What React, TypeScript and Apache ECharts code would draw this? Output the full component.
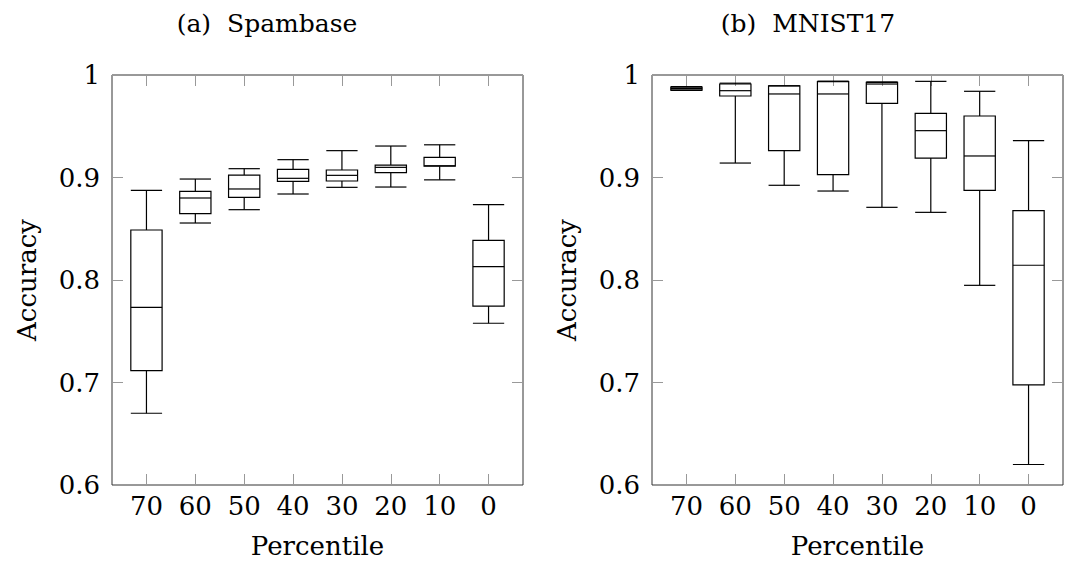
import React, { useEffect, useRef } from "react";
import * as echarts from "echarts";

const categories = ["70", "60", "50", "40", "30", "20", "10", "0"];
const yTicks = [0.6, 0.7, 0.8, 0.9, 1];

// (a) Spambase
const spamMin = [0.670, 0.8556, 0.8686, 0.8839, 0.8904, 0.8907, 0.8977, 0.7578];
const spamQ1 = [0.7115, 0.8647, 0.8807, 0.8963, 0.8966, 0.9047, 0.9110, 0.7746];
const spamMedian = [0.7733, 0.8800, 0.8888, 0.8992, 0.9021, 0.9099, 0.9115, 0.8130];
const spamQ3 = [0.8488, 0.8865, 0.9024, 0.9080, 0.9073, 0.9121, 0.9196, 0.8387];
const spamMax = [0.8875, 0.8985, 0.9086, 0.9174, 0.9262, 0.9307, 0.9319, 0.8736];

// (b) MNIST17
const mnistMin = [0.9850, 0.9141, 0.8924, 0.8868, 0.8709, 0.8660, 0.7948, 0.6200];
const mnistQ1 = [0.9853, 0.9795, 0.9262, 0.9028, 0.9724, 0.9190, 0.8875, 0.6976];
const mnistMedian = [0.9868, 0.9847, 0.9815, 0.9815, 0.9912, 0.9457, 0.9210, 0.8144];
const mnistQ3 = [0.9882, 0.9912, 0.9893, 0.9935, 0.9928, 0.9626, 0.9600, 0.8676];
const mnistMax = [0.9886, 0.9920, 0.9895, 0.9940, 0.9932, 0.9938, 0.9841, 0.9359];

const FONT = "DejaVu Serif";
const LABEL_SIZE = 26;

function buildBoxData(mn: number[], q1: number[], md: number[], q3: number[], mx: number[]) {
  return categories.map((_, i) => [i, mn[i], q1[i], md[i], q3[i], mx[i]]);
}

const renderBox = (_params: any, api: any) => {
  const x = api.value(0);
  const lo = api.value(1);
  const q1 = api.value(2);
  const md = api.value(3);
  const q3 = api.value(4);
  const hi = api.value(5);
  const half = 0.32;
  const xl = api.coord([x - half, md])[0];
  const xr = api.coord([x + half, md])[0];
  const xc = api.coord([x, md])[0];
  const y = (v: number) => api.coord([x, v])[1];
  const style = { stroke: "#000", lineWidth: 1.2, fill: "none" };
  return {
    type: "group",
    children: [
      { type: "line", shape: { x1: xc, y1: y(hi), x2: xc, y2: y(q3) }, style },
      { type: "line", shape: { x1: xc, y1: y(q1), x2: xc, y2: y(lo) }, style },
      { type: "line", shape: { x1: xl, y1: y(hi), x2: xr, y2: y(hi) }, style },
      { type: "line", shape: { x1: xl, y1: y(lo), x2: xr, y2: y(lo) }, style },
      { type: "rect", shape: { x: xl, y: y(q3), width: xr - xl, height: y(q1) - y(q3) }, style },
      { type: "line", shape: { x1: xl, y1: y(md), x2: xr, y2: y(md) }, style },
    ],
  };
};

const xIdx = categories.map((_, i) => i);
const X_MIN = -0.705;
const X_MAX = 7.705;

function makeXAxes(gridIndex: number) {
  const tick = {
    show: true,
    inside: true,
    length: 11,
    lineStyle: { color: "#999", width: 1 },
    customValues: xIdx,
  };
  return [
    {
      gridIndex,
      type: "value",
      min: X_MIN,
      max: X_MAX,
      position: "bottom",
      axisLine: { show: false, onZero: false },
      axisTick: tick,
      splitLine: { show: false },
      axisLabel: {
        customValues: xIdx,
        formatter: (v: number) => categories[Math.round(v)],
        fontSize: LABEL_SIZE,
        fontFamily: FONT,
        color: "#000",
        margin: 8,
      },
      name: "Percentile",
      nameLocation: "middle",
      nameGap: 48,
      nameTextStyle: { fontSize: LABEL_SIZE, fontFamily: FONT, color: "#000" },
    },
    {
      gridIndex,
      type: "value",
      min: X_MIN,
      max: X_MAX,
      position: "top",
      axisLine: { show: false, onZero: false },
      axisTick: tick,
      splitLine: { show: false },
      axisLabel: { show: false },
    },
  ];
}

function makeYAxes(gridIndex: number) {
  const tick = {
    show: true,
    inside: true,
    length: 11,
    lineStyle: { color: "#999", width: 1 },
    customValues: yTicks,
  };
  return [
    {
      gridIndex,
      type: "value",
      min: 0.6,
      max: 1,
      position: "left",
      axisLine: { show: false, onZero: false },
      axisTick: tick,
      splitLine: { show: false },
      axisLabel: {
        customValues: yTicks,
        formatter: (v: number) => (Math.abs(v - 1) < 1e-9 ? "1" : v.toFixed(1)),
        fontSize: LABEL_SIZE,
        fontFamily: FONT,
        color: "#000",
        margin: 12,
      },
      name: "Accuracy",
      nameLocation: "middle",
      nameGap: 72,
      nameRotate: 90,
      nameTextStyle: { fontSize: LABEL_SIZE, fontFamily: FONT, color: "#000" },
    },
    {
      gridIndex,
      type: "value",
      min: 0.6,
      max: 1,
      position: "right",
      axisLine: { show: false, onZero: false },
      axisTick: tick,
      splitLine: { show: false },
      axisLabel: { show: false },
    },
  ];
}

export default function App() {
  const ref = useRef<HTMLDivElement>(null);
  useEffect(() => {
    if (!ref.current) return;
    const chart = echarts.init(ref.current, undefined, { renderer: "svg" });
    chart.setOption({
      animation: false,
      backgroundColor: "#fff",
      textStyle: { fontFamily: FONT },
      grid: [
        { left: 112, top: 75, width: 411, height: 410, show: true, borderColor: "#333", borderWidth: 1, backgroundColor: "transparent" },
        { left: 652, top: 75, width: 411, height: 410, show: true, borderColor: "#333", borderWidth: 1, backgroundColor: "transparent" },
      ],
      xAxis: [...makeXAxes(0), ...makeXAxes(1)],
      yAxis: [...makeYAxes(0), ...makeYAxes(1)],
      graphic: [
        {
          type: "text",
          x: 267,
          y: 23,
          style: { text: "(a)  Spambase", fontSize: 25, fontFamily: FONT, fill: "#000", align: "center", verticalAlign: "middle" },
        },
        {
          type: "text",
          x: 808,
          y: 23,
          style: { text: "(b)  MNIST17", fontSize: 25, fontFamily: FONT, fill: "#000", align: "center", verticalAlign: "middle" },
        },
      ],
      series: [
        {
          type: "custom",
          name: "Spambase",
          xAxisIndex: 0,
          yAxisIndex: 0,
          renderItem: renderBox,
          encode: { x: 0, y: [1, 2, 3, 4, 5] },
          data: buildBoxData(spamMin, spamQ1, spamMedian, spamQ3, spamMax),
        },
        {
          type: "custom",
          name: "MNIST17",
          xAxisIndex: 2,
          yAxisIndex: 2,
          renderItem: renderBox,
          encode: { x: 0, y: [1, 2, 3, 4, 5] },
          data: buildBoxData(mnistMin, mnistQ1, mnistMedian, mnistQ3, mnistMax),
        },
      ],
    });
    return () => chart.dispose();
  }, []);
  return (
    <div
      ref={ref}
      style={{ position: "absolute", left: 0, top: 0, width: 1065, height: 568 }}
    />
  );
}
